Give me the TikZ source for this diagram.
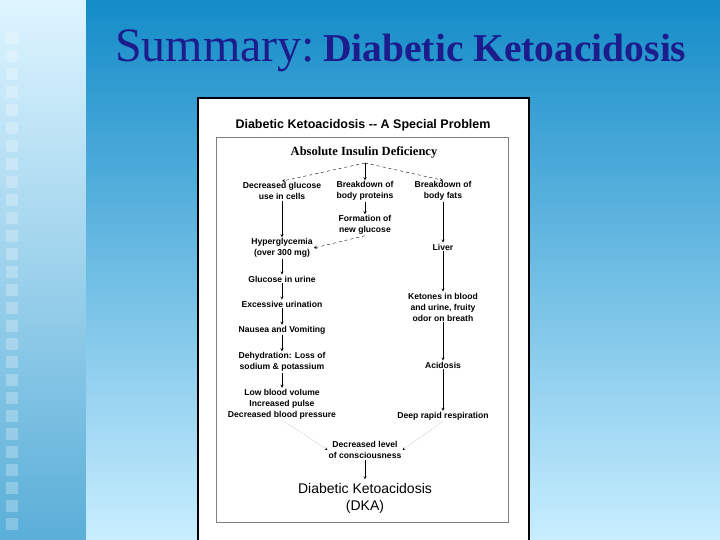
\documentclass[tikz,border=0pt]{standalone}
\usepackage{fontspec}
\setmainfont{Liberation Serif}
\setsansfont{Liberation Sans}
\usetikzlibrary{positioning}
\definecolor{titleblue}{RGB}{28,28,140}
\definecolor{topblue}{RGB}{20,140,200}
\definecolor{lowblue}{RGB}{200,238,255}
\begin{document}
\begin{tikzpicture}[x=1pt,y=-1pt,
  box/.style={align=center,font=\sffamily\bfseries\fontsize{8.6}{11}\selectfont,inner sep=1pt},
  flow/.style={->,>=stealth,thin},
  dflow/.style={->,>=stealth,thin,dashed},
  tflow/.style={->,>=stealth,very thin,densely dotted}]
\useasboundingbox (0,0) rectangle (720,540);
% background
\shade[top color=lowblue!60,bottom color=topblue!70] (0,0) rectangle (86,540);
\shade[top color=topblue,bottom color=lowblue] (86,0) rectangle (720,540);
\foreach \y in {32,50,...,530}
    \fill[white,opacity=0.25] (6,\y) rectangle (18,\y+12);
% title
\node[text=titleblue,anchor=base west,inner sep=0pt] (title) at (115,62)
  {{\fontsize{48}{48}\selectfont Summary:}\hspace{8pt}{\fontsize{39.5}{40}\selectfont\bfseries Diabetic Ketoacidosis}};
% panel
\draw[line width=2pt,fill=white] (198,98) rectangle (529,545);
\draw[gray,fill=white] (216,137) rectangle (508,522);
\node[font=\sffamily\bfseries\fontsize{12.5}{13}\selectfont] (head) at (363,125) {Diabetic Ketoacidosis -{}- A Special Problem};
\node[font=\bfseries\fontsize{12.5}{13}\selectfont] (abs) at (364,152) {Absolute Insulin Deficiency};

\node[box] (glu) at (282,191) {Decreased glucose\\use in cells};
\node[box] (pro) at (365,191) {Breakdown of\\body proteins};
\node[box] (fat) at (443,191) {Breakdown of\\body fats};
\node[box] (form) at (365,225) {Formation of\\new glucose};
\node[box] (hyp) at (282,248) {Hyperglycemia\\(over 300 mg)};
\node[box] (liv) at (443,247) {Liver};
\node[box] (uri) at (282,279) {Glucose in urine};
\node[box] (exc) at (282,304) {Excessive urination};
\node[box] (ket) at (443,307) {Ketones in blood\\and urine, fruity\\odor on breath};
\node[box] (nau) at (282,330) {Nausea and Vomiting};
\node[box] (deh) at (282,362) {Dehydration: Loss of\\sodium \& potassium};
\node[box] (aci) at (443,365) {Acidosis};
\node[box] (low) at (282,404) {Low blood volume\\Increased pulse\\Decreased blood pressure};
\node[box] (deep) at (443,416) {Deep rapid respiration};
\node[box] (dec) at (365,450) {Decreased level\\of consciousness};
\node[align=center,font=\sffamily\fontsize{14}{17}\selectfont] (dka) at (365,498) {Diabetic Ketoacidosis\\(DKA)};

\coordinate (split) at (365,163);
\draw[dflow] (split) -- (glu.north);
\draw[flow] (split) -- (pro.north);
\draw[dflow] (split) -- (fat.north);
\draw[flow] (pro) -- (form);
\draw[dflow] (form.south) -- (hyp.east);
\draw[flow] (glu) -- (hyp);
\draw[flow] (hyp) -- (uri);
\draw[flow] (uri) -- (exc);
\draw[flow] (exc) -- (nau);
\draw[flow] (nau) -- (deh);
\draw[flow] (deh) -- (low);
\draw[flow] (fat) -- (liv);
\draw[flow] (liv) -- (ket);
\draw[flow] (ket) -- (aci);
\draw[flow] (aci) -- (deep);
\draw[tflow] (low.south) -- (dec.west);
\draw[tflow] (deep.south) -- (dec.east);
\draw[flow] (dec) -- (dka);
\end{tikzpicture}
\end{document}
